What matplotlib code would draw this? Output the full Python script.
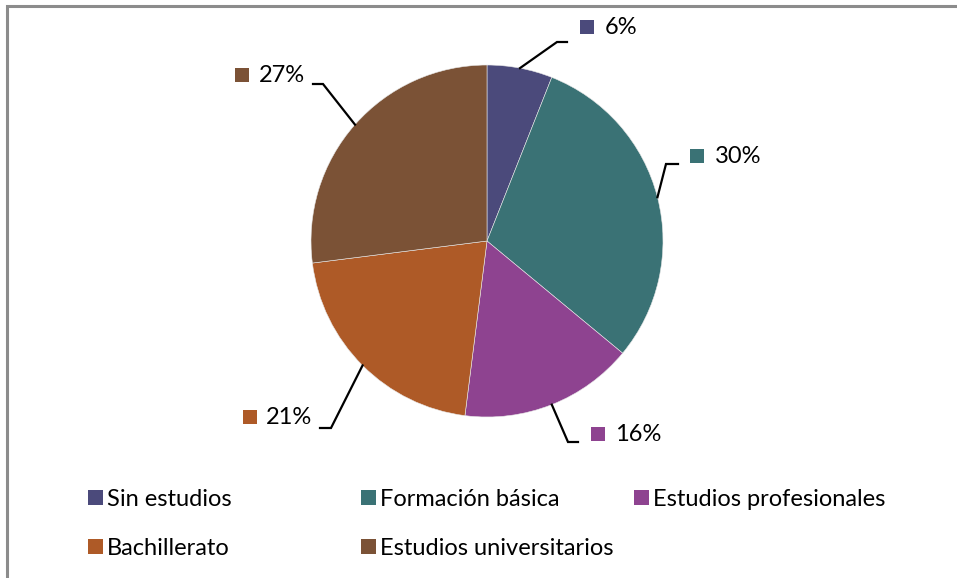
import matplotlib
matplotlib.use("Agg")
import matplotlib.pyplot as plt
from matplotlib.patches import Rectangle, Patch
import numpy as np

categories = ["Sin estudios", "Formación básica", "Estudios profesionales",
              "Bachillerato", "Estudios universitarios"]
values = [6, 30, 16, 21, 27]
colors = ["#4B4A7B", "#3A7275", "#8E4390", "#AE5A27", "#7B5236"]

plt.rcParams['font.family'] = ['Lato', 'DejaVu Sans']
FS = 17

W, H = 957, 578
fig = plt.figure(figsize=(W / 100, H / 100), dpi=100)

# pie geometry in pixels (layout)
CX, CY, R = 487, 241, 176
ax = fig.add_axes([0, 0, 1, 1])
ax.set_axis_off()

def P(px, py):
    return ((px - CX) / R, (CY - py) / R)

wedges, _ = ax.pie(values, colors=colors, startangle=90, counterclock=False,
                   radius=1.0, center=(0, 0),
                   wedgeprops=dict(edgecolor="#E8E8E8", linewidth=0.4))
ax.set_xlim(-CX / R, (W - CX) / R)
ax.set_ylim(-(H - CY) / R, CY / R)
ax.set_aspect('auto')

# label layout: elbow point, end point, marker position, text anchor
layout = [
    dict(elbow=(557, 42), end=(567, 42), mk=(587, 27), tx=(605, 28)),
    dict(elbow=(666, 164), end=(678, 164), mk=(697, 156), tx=(715, 157)),
    dict(elbow=(568, 442), end=(578, 442), mk=(598, 434), tx=(615, 435)),
    dict(elbow=(331, 428), end=(320, 428), mk=(250, 417), tx=(266, 418)),
    dict(elbow=(323, 84), end=(313, 84), mk=(242, 75), tx=(259, 76)),
]

total = sum(values)
for w, v, c, L in zip(wedges, values, colors, layout):
    ang = np.deg2rad((w.theta1 + w.theta2) / 2)
    x0, y0 = np.cos(ang), np.sin(ang)
    ex, ey = P(*L['elbow'])
    nx, ny = P(*L['end'])
    ax.plot([x0, ex, nx], [y0, ey, ny], color="black", lw=1.6,
            solid_joinstyle='miter', clip_on=False)
    mx, my = P(*L['mk'])
    ax.scatter([mx], [my], marker='s', s=95, color=c, linewidths=0)
    tx, ty = P(*L['tx'])
    ax.text(tx, ty, f"{round(v / total * 100)}%", fontsize=FS,
            ha='left', va='center', color="black")

# legend, drawn as one legend per column to get the even column grid
cols = [[0, 3], [1, 4], [2]]
col_x = [88, 361, 634]
for ci, idxs in enumerate(cols):
    handles = [Patch(facecolor=colors[i], edgecolor='none') for i in idxs]
    labels = [categories[i] for i in idxs]
    fig.legend(handles, labels, loc='upper left',
               bbox_to_anchor=(col_x[ci] / W, 1 - 489 / H),
               frameon=False, fontsize=FS, handlelength=0.62,
               handleheight=0.62, handletextpad=0.2, labelspacing=1.18,
               borderpad=0, borderaxespad=0)

# outer border
fig.patches.append(Rectangle((7 / W, -0.05), 1.0, 1 - 6 / H + 0.05,
                             transform=fig.transFigure, fill=False,
                             edgecolor="#8C8C8C", linewidth=2.2))

fig.savefig("out.png", dpi=100)
